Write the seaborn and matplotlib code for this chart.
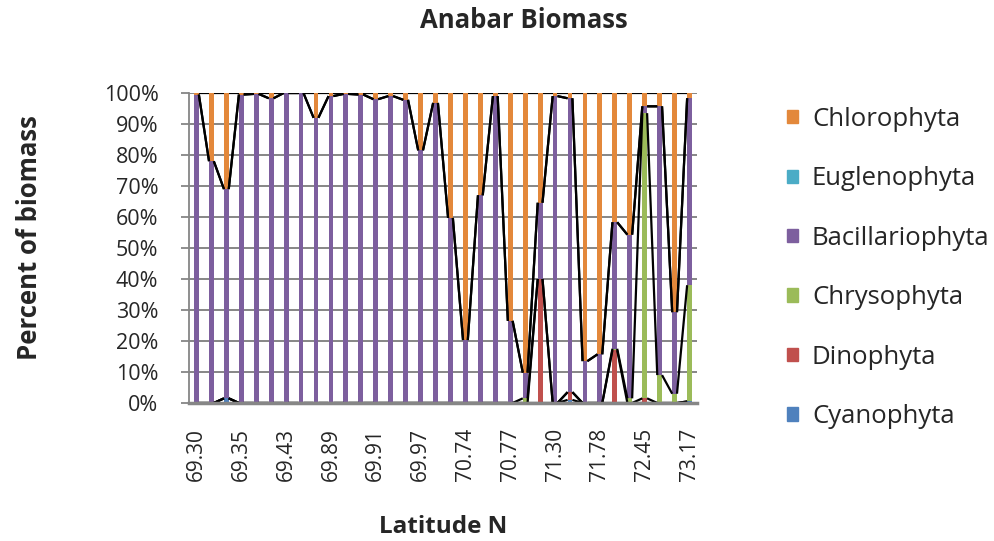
import matplotlib
matplotlib.use("Agg")
import matplotlib.pyplot as plt
import matplotlib.patches as mpatches
import seaborn as sns
import numpy as np
import pandas as pd

# latitude labels shown on the axis (every third sample)
tick_labels = ['69.30', '69.35', '69.43', '69.89', '69.91', '69.97',
               '70.74', '70.77', '71.30', '71.78', '72.45', '73.17']

# percent of biomass per sample, bottom to top of the stack
cyanophyta = [0, 0, 1.5, 0, 0, 0, 0, 0, 0, 0, 0, 0, 0, 0, 0, 0, 0,
              0, 0, 0, 0, 0, 0, 0, 0, 1, 0, 0, 0, 0, 0, 0, 0, 0.5]
dinophyta = [0, 0, 0, 0, 0, 0, 0, 0, 0, 0, 0, 0, 0, 0, 0, 0, 0,
             0, 0, 0, 0, 0, 0, 40, 0, 2.5, 0, 0, 17, 0, 1.5, 0, 0, 0]
chrysophyta = [0, 0, 0, 0, 0, 0, 0, 0, 0, 0, 0, 0, 0, 0, 0, 0, 0,
               0, 0, 0, 0, 0, 1.5, 0, 0, 0, 0, 0, 0.5, 1.5, 92, 9, 3, 37.5]
bacillariophyta = [99.5, 78, 67.5, 99.5, 99.7, 98.3, 100, 100, 92, 99, 99.7, 99.5,
                   98, 99, 97.8, 81.5, 96.8, 59.7, 20.3, 67, 99, 26.5, 8.3, 24.6,
                   99, 94.8, 13.5, 15.7, 40.8, 52.8, 2.2, 86.7, 26.3, 60.3]
euglenophyta = [0] * 34
chlorophyta = [0.5, 22, 31, 0.5, 0.3, 1.7, 0, 0, 8, 1, 0.3, 0.5,
               2, 1, 2.2, 18.5, 3.2, 40.3, 79.7, 33, 1, 73.5, 90.2, 35.4,
               1, 1.7, 86.5, 84.3, 41.7, 45.7, 4.3, 4.3, 70.7, 1.7]

series = ['Cyanophyta', 'Dinophyta', 'Chrysophyta', 'Bacillariophyta',
          'Euglenophyta', 'Chlorophyta']
colors = {'Cyanophyta': '#4F81BD', 'Dinophyta': '#C0504D', 'Chrysophyta': '#9BBB59',
          'Bacillariophyta': '#7D5F9E', 'Euglenophyta': '#4BACC6', 'Chlorophyta': '#E3883B'}

df = pd.DataFrame({'Cyanophyta': cyanophyta, 'Dinophyta': dinophyta,
                   'Chrysophyta': chrysophyta, 'Bacillariophyta': bacillariophyta,
                   'Euglenophyta': euglenophyta, 'Chlorophyta': chlorophyta})
df['pos'] = np.arange(len(df))
cum = df[series].cumsum(axis=1)

sns.set_style("white")
plt.rcParams['font.family'] = ['Open Sans', 'DejaVu Sans']

fig = plt.figure(figsize=(9.94, 5.41), dpi=100)
ax = fig.add_axes([189 / 994, 1 - 403 / 541, 508 / 994, 310 / 541])

bw = 0.32
# draw cumulative totals from the top layer down so lower layers cover upper ones
for name in series[::-1]:
    sns.barplot(x=df['pos'], y=cum[name], color=colors[name], width=bw,
                saturation=1, errorbar=None, ax=ax, zorder=3,
                linewidth=0, edgecolor='none')

# Excel-style series lines joining each boundary between neighbouring bars
for name in series:
    xs, ys = [], []
    vals = cum[name].values
    for i in range(len(vals) - 1):
        xs += [i + bw / 2, i + 1 - bw / 2, np.nan]
        ys += [vals[i], vals[i + 1], np.nan]
    ax.plot(xs, ys, color='black', lw=1.6, zorder=4, solid_capstyle='butt')

ax.set_xlim(-0.5, len(df) - 0.5)
ax.set_ylim(0, 100)
ax.set_yticks(np.arange(0, 101, 10))
ax.set_yticklabels([f'{v}%' for v in range(0, 101, 10)], fontsize=15.5)
ax.set_xticks(np.arange(0, len(df), 3))
ax.set_xticklabels(tick_labels, rotation=90, fontsize=15)
ax.tick_params(axis='x', length=0, pad=18)
ax.tick_params(axis='y', length=6, width=1.3, color='#868686', direction='out', left=True, pad=16)
ax.yaxis.grid(True, color='#868686', lw=1.4, linestyle='-', zorder=1)
ax.set_axisbelow(True)
for s in ['top', 'right']:
    ax.spines[s].set_visible(False)
ax.spines['left'].set_color('#868686')
ax.spines['left'].set_linewidth(1.3)
ax.spines['bottom'].set_color('#868686')
ax.spines['bottom'].set_linewidth(2.5)
ax.spines['bottom'].set_zorder(5)
ax.set_xlabel('')
ax.set_ylabel('')

fig.text(524 / 994, 1 - 20 / 541, 'Anabar Biomass', fontsize=18.5, fontweight='bold',
         ha='center', va='center')
fig.text(30 / 994, 1 - 238 / 541, 'Percent of biomass', fontsize=18.5, fontweight='bold',
         ha='center', va='center', rotation=90)
fig.text(443 / 994, 1 - 527 / 541, 'Latitude N', fontsize=17.5, fontweight='bold',
         ha='center', va='center')

handles = [mpatches.Patch(color=colors[n], label=n) for n in series[::-1]]
fig.legend(handles=handles, loc='upper left', bbox_to_anchor=(787 / 994, 1 - 107 / 541),
           frameon=False, fontsize=18.5, handlelength=0.42, handleheight=0.42,
           handletextpad=0.55, labelspacing=1.34, borderaxespad=0, borderpad=0)

fig.savefig('out.png', dpi=100)
